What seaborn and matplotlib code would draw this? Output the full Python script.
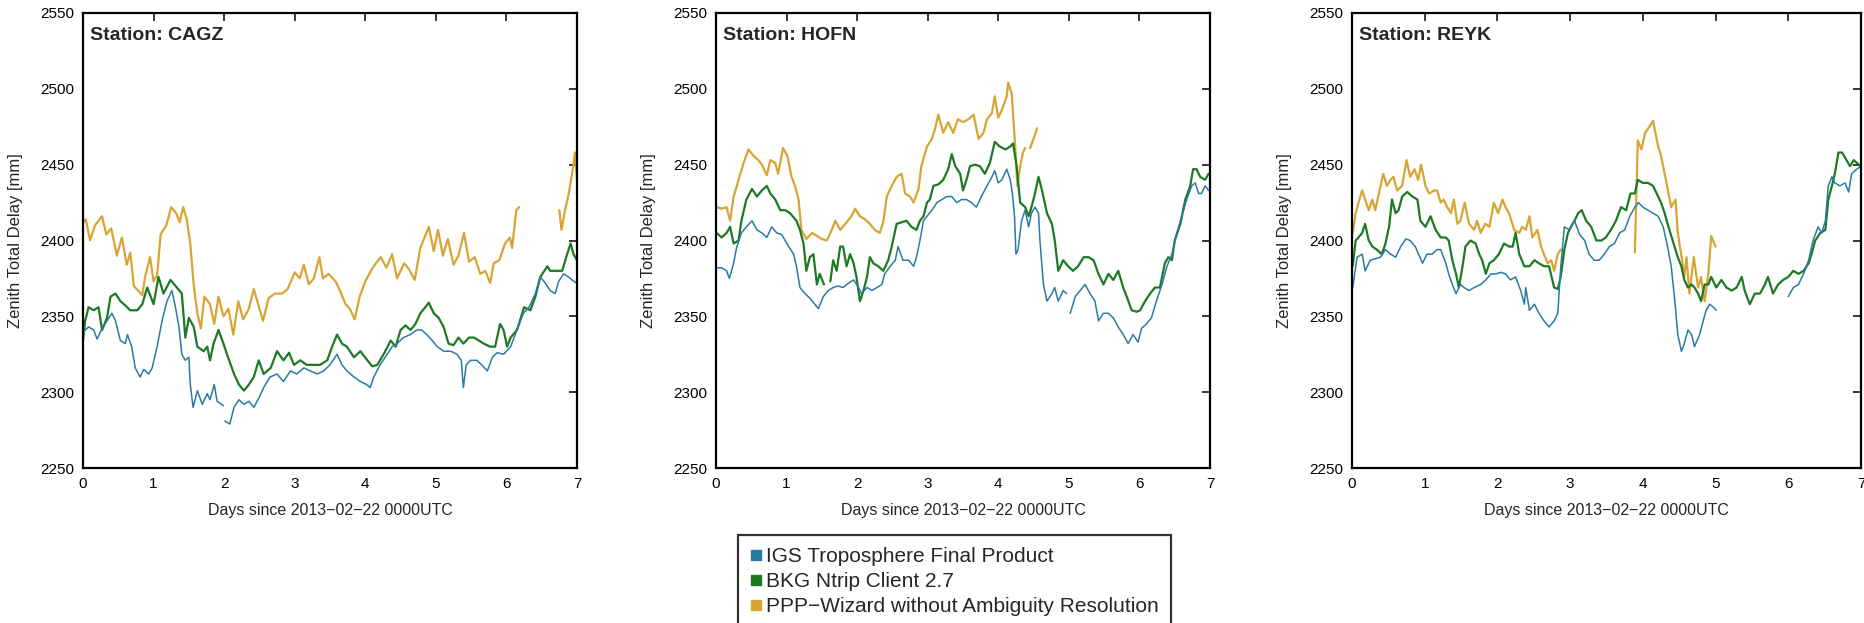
import numpy as np
import pandas as pd
import matplotlib
matplotlib.use("Agg")
import matplotlib.pyplot as plt
from matplotlib.lines import Line2D
import seaborn as sns

nan = np.nan

# ---------------------------------------------------------------------------
# Zenith total delay [mm] per station and solution, days since 2013-02-22 00 UTC
# (NaN marks a data gap)
# ---------------------------------------------------------------------------
STATIONS = ["CAGZ", "HOFN", "REYK"]
SOURCES = ["IGS Troposphere Final Product",
           "BKG Ntrip Client 2.7",
           "PPP\u2212Wizard without Ambiguity Resolution"]
COLORS = ["#2a7ba3", "#1d7a22", "#d8a534"]
X_TICKS = [0, 1, 2, 3, 4, 5, 6, 7]
Y_TICKS = [2250, 2300, 2350, 2400, 2450, 2500, 2550]

# --- CAGZ ------------------------------------------------------------------
CAGZ_IGS_DAY = [0.00, 0.03, 0.08, 0.15, 0.20, 0.27, 0.34, 0.41, 0.46, 0.53,
                0.60, 0.63, 0.69, 0.74, 0.81, 0.86, 0.93, 0.98, 1.05, 1.12,
                1.19, 1.26, 1.31, 1.36, 1.40, 1.45, 1.50, 1.52, 1.56, 1.62,
                1.69, 1.76, 1.80, 1.86, 1.90, 1.99, 2.00, 2.01, 2.08, 2.14,
                2.21, 2.28, 2.35, 2.42, 2.49, 2.56, 2.65, 2.75, 2.84, 2.94,
                3.03, 3.13, 3.22, 3.32, 3.41, 3.50, 3.60, 3.67, 3.74, 3.84,
                3.93, 4.02, 4.07, 4.12, 4.21, 4.31, 4.38, 4.45, 4.54, 4.64,
                4.73, 4.80, 4.87, 4.95, 5.02, 5.11, 5.21, 5.30, 5.36, 5.39,
                5.43, 5.49, 5.58, 5.65, 5.73, 5.80, 5.87, 5.96, 6.06, 6.15,
                6.24, 6.32, 6.41, 6.48, 6.55, 6.62, 6.69, 6.74, 6.81, 6.88,
                6.93, 6.99]
CAGZ_IGS_ZTD = [2338, 2341, 2343, 2341, 2335, 2342, 2347, 2352, 2347, 2334,
                2332, 2338, 2330, 2316, 2310, 2315, 2312, 2316, 2330, 2347,
                2360, 2367, 2356, 2343, 2325, 2321, 2323, 2305, 2290, 2301,
                2292, 2299, 2295, 2305, 2294, 2291, nan, 2281, 2279, 2290,
                2295, 2292, 2294, 2290, 2296, 2303, 2310, 2312, 2307, 2314,
                2312, 2316, 2314, 2312, 2314, 2318, 2325, 2318, 2314, 2310,
                2307, 2305, 2303, 2310, 2318, 2325, 2330, 2332, 2336, 2338,
                2341, 2341, 2338, 2334, 2330, 2327, 2327, 2325, 2321, 2303,
                2318, 2321, 2321, 2318, 2314, 2323, 2326, 2325, 2330, 2341,
                2352, 2356, 2365, 2376, 2372, 2367, 2365, 2373, 2378, 2376,
                2374, 2372]

CAGZ_BKG_DAY = [0.00, 0.03, 0.08, 0.15, 0.22, 0.27, 0.34, 0.39, 0.46, 0.53,
                0.58, 0.67, 0.77, 0.84, 0.91, 1.00, 1.07, 1.14, 1.24, 1.33,
                1.40, 1.45, 1.50, 1.57, 1.62, 1.71, 1.76, 1.80, 1.85, 1.92,
                1.99, 2.04, 2.14, 2.21, 2.28, 2.35, 2.42, 2.49, 2.56, 2.66,
                2.75, 2.84, 2.92, 2.99, 3.08, 3.17, 3.27, 3.36, 3.46, 3.53,
                3.60, 3.67, 3.74, 3.84, 3.93, 4.03, 4.10, 4.17, 4.26, 4.36,
                4.43, 4.50, 4.57, 4.64, 4.71, 4.78, 4.85, 4.90, 4.97, 5.04,
                5.11, 5.18, 5.25, 5.32, 5.39, 5.47, 5.54, 5.61, 5.68, 5.77,
                5.84, 5.91, 5.96, 6.01, 6.06, 6.15, 6.25, 6.34, 6.41, 6.48,
                6.58, 6.62, 6.72, 6.79, 6.86, 6.91, 6.95, 7.00]
CAGZ_BKG_ZTD = [2334, 2347, 2356, 2354, 2356, 2341, 2349, 2363, 2365, 2360,
                2358, 2354, 2354, 2358, 2369, 2358, 2376, 2365, 2374, 2369,
                2365, 2336, 2349, 2343, 2330, 2327, 2330, 2321, 2332, 2341,
                2332, 2325, 2312, 2305, 2301, 2305, 2310, 2321, 2312, 2316,
                2327, 2321, 2326, 2318, 2321, 2318, 2318, 2318, 2321, 2330,
                2338, 2332, 2330, 2323, 2327, 2321, 2317, 2318, 2325, 2334,
                2330, 2341, 2344, 2341, 2345, 2352, 2356, 2359, 2352, 2349,
                2343, 2332, 2331, 2336, 2332, 2336, 2336, 2334, 2332, 2330,
                2330, 2345, 2341, 2330, 2336, 2341, 2356, 2354, 2363, 2376,
                2383, 2380, 2380, 2380, 2391, 2398, 2391, 2387]

CAGZ_PPP_DAY = [0.00, 0.04, 0.10, 0.17, 0.27, 0.33, 0.40, 0.48, 0.55, 0.62,
                0.67, 0.72, 0.78, 0.84, 0.88, 0.95, 1.00, 1.05, 1.10, 1.18,
                1.25, 1.32, 1.37, 1.42, 1.47, 1.52, 1.57, 1.62, 1.67, 1.72,
                1.80, 1.86, 1.92, 1.99, 2.06, 2.13, 2.20, 2.27, 2.35, 2.42,
                2.47, 2.55, 2.63, 2.72, 2.82, 2.90, 3.00, 3.07, 3.13, 3.20,
                3.27, 3.35, 3.40, 3.48, 3.58, 3.65, 3.72, 3.78, 3.85, 3.92,
                4.00, 4.08, 4.15, 4.22, 4.30, 4.38, 4.45, 4.55, 4.62, 4.70,
                4.78, 4.84, 4.90, 4.97, 5.03, 5.10, 5.17, 5.25, 5.32, 5.40,
                5.47, 5.55, 5.63, 5.70, 5.77, 5.82, 5.90, 5.98, 6.05, 6.08,
                6.14, 6.18, 6.45, 6.75, 6.78, 6.83, 6.88, 6.93, 6.97, 7.00]
CAGZ_PPP_ZTD = [2412, 2414, 2400, 2410, 2416, 2404, 2408, 2390, 2402, 2384,
                2392, 2370, 2367, 2364, 2376, 2389, 2373, 2377, 2404, 2410,
                2422, 2418, 2412, 2422, 2414, 2398, 2370, 2352, 2342, 2363,
                2358, 2345, 2363, 2350, 2355, 2338, 2360, 2348, 2355, 2368,
                2360, 2347, 2362, 2365, 2365, 2368, 2379, 2375, 2384, 2371,
                2375, 2389, 2375, 2378, 2373, 2366, 2358, 2355, 2348, 2363,
                2373, 2380, 2385, 2389, 2382, 2391, 2375, 2385, 2381, 2374,
                2395, 2402, 2409, 2393, 2407, 2390, 2401, 2384, 2390, 2405,
                2386, 2389, 2378, 2380, 2372, 2385, 2387, 2398, 2402, 2395,
                2420, 2422, nan, 2420, 2407, 2420, 2430, 2444, 2458, 2440]

# --- HOFN ------------------------------------------------------------------
HOFN_IGS_DAY = [0.01, 0.08, 0.15, 0.19, 0.25, 0.29, 0.36, 0.43, 0.51, 0.58,
                0.65, 0.72, 0.79, 0.86, 0.93, 0.98, 1.03, 1.10, 1.14, 1.19,
                1.26, 1.33, 1.40, 1.45, 1.52, 1.59, 1.66, 1.73, 1.80, 1.88,
                1.95, 2.02, 2.06, 2.14, 2.21, 2.28, 2.35, 2.39, 2.47, 2.54,
                2.58, 2.65, 2.73, 2.80, 2.84, 2.89, 2.94, 2.99, 3.06, 3.13,
                3.20, 3.27, 3.34, 3.41, 3.48, 3.55, 3.62, 3.69, 3.76, 3.84,
                3.91, 3.95, 4.00, 4.05, 4.12, 4.17, 4.20, 4.23, 4.25, 4.28,
                4.33, 4.38, 4.43, 4.47, 4.52, 4.57, 4.59, 4.64, 4.69, 4.76,
                4.80, 4.85, 4.92, 4.97, 5.00, 5.02, 5.09, 5.16, 5.23, 5.30,
                5.37, 5.42, 5.49, 5.56, 5.63, 5.70, 5.77, 5.84, 5.91, 5.98,
                6.03, 6.10, 6.17, 6.24, 6.32, 6.39, 6.46, 6.53, 6.60, 6.67,
                6.74, 6.79, 6.84, 6.88, 6.93, 6.98]
HOFN_IGS_ZTD = [2382, 2382, 2380, 2375, 2385, 2395, 2405, 2409, 2413, 2407,
                2405, 2402, 2409, 2405, 2404, 2400, 2396, 2391, 2383, 2369,
                2365, 2362, 2358, 2355, 2363, 2367, 2369, 2370, 2369, 2372,
                2374, 2369, 2365, 2369, 2367, 2369, 2371, 2378, 2383, 2387,
                2396, 2387, 2387, 2383, 2389, 2400, 2413, 2416, 2420, 2425,
                2427, 2429, 2429, 2425, 2427, 2427, 2425, 2422, 2429, 2436,
                2442, 2446, 2438, 2440, 2447, 2440, 2431, 2416, 2391, 2394,
                2413, 2420, 2409, 2418, 2422, 2418, 2400, 2371, 2360, 2365,
                2369, 2360, 2367, 2365, nan, 2352, 2363, 2367, 2371, 2365,
                2360, 2347, 2352, 2352, 2349, 2343, 2338, 2332, 2338, 2333,
                2342, 2345, 2349, 2360, 2371, 2383, 2391, 2405, 2416, 2427,
                2436, 2438, 2431, 2431, 2436, 2433]

HOFN_BKG_DAY = [0.01, 0.08, 0.15, 0.20, 0.25, 0.32, 0.36, 0.43, 0.51, 0.58,
                0.65, 0.72, 0.77, 0.84, 0.91, 0.98, 1.05, 1.14, 1.19, 1.24,
                1.28, 1.33, 1.38, 1.43, 1.47, 1.53, 1.56, 1.62, 1.66, 1.71,
                1.76, 1.80, 1.85, 1.90, 1.95, 1.99, 2.04, 2.09, 2.14, 2.18,
                2.23, 2.30, 2.37, 2.44, 2.49, 2.56, 2.63, 2.70, 2.77, 2.84,
                2.89, 2.94, 2.99, 3.03, 3.08, 3.15, 3.22, 3.29, 3.34, 3.39,
                3.46, 3.50, 3.55, 3.60, 3.67, 3.74, 3.81, 3.88, 3.95, 4.02,
                4.10, 4.17, 4.21, 4.26, 4.31, 4.38, 4.43, 4.47, 4.52, 4.57,
                4.62, 4.69, 4.76, 4.80, 4.85, 4.92, 4.99, 5.06, 5.13, 5.21,
                5.28, 5.35, 5.42, 5.49, 5.56, 5.63, 5.70, 5.77, 5.82, 5.89,
                5.96, 6.01, 6.08, 6.15, 6.22, 6.29, 6.36, 6.41, 6.46, 6.50,
                6.58, 6.65, 6.72, 6.76, 6.81, 6.86, 6.93, 6.98]
HOFN_BKG_ZTD = [2405, 2402, 2405, 2409, 2398, 2400, 2413, 2427, 2434, 2429,
                2433, 2436, 2431, 2427, 2420, 2420, 2418, 2413, 2407, 2398,
                2380, 2389, 2391, 2371, 2378, 2371, nan, 2373, 2387, 2380,
                2396, 2396, 2383, 2391, 2385, 2376, 2360, 2367, 2376, 2389,
                2385, 2383, 2380, 2387, 2396, 2411, 2412, 2413, 2409, 2407,
                2413, 2416, 2425, 2427, 2436, 2437, 2440, 2447, 2457, 2449,
                2444, 2433, 2440, 2449, 2450, 2449, 2444, 2451, 2465, 2462,
                2460, 2462, 2464, 2449, 2425, 2422, 2416, 2422, 2431, 2442,
                2433, 2418, 2411, 2400, 2380, 2387, 2383, 2380, 2383, 2389,
                2389, 2387, 2378, 2371, 2378, 2374, 2380, 2369, 2363, 2354,
                2353, 2354, 2360, 2365, 2369, 2369, 2385, 2389, 2387, 2400,
                2411, 2427, 2436, 2447, 2447, 2442, 2440, 2444]

HOFN_PPP_DAY = [0.01, 0.08, 0.15, 0.20, 0.25, 0.32, 0.39, 0.46, 0.53, 0.60,
                0.65, 0.72, 0.77, 0.84, 0.88, 0.95, 1.01, 1.07, 1.12, 1.17,
                1.21, 1.28, 1.36, 1.43, 1.50, 1.57, 1.64, 1.69, 1.76, 1.85,
                1.92, 1.97, 2.04, 2.11, 2.18, 2.25, 2.32, 2.37, 2.42, 2.49,
                2.56, 2.63, 2.68, 2.75, 2.80, 2.87, 2.91, 2.99, 3.06, 3.10,
                3.15, 3.22, 3.29, 3.36, 3.43, 3.50, 3.58, 3.65, 3.72, 3.79,
                3.84, 3.91, 3.95, 4.00, 4.05, 4.12, 4.14, 4.19, 4.24, 4.27,
                4.31, 4.35, 4.38, 4.40, 4.45, 4.50, 4.55]
HOFN_PPP_ZTD = [2422, 2421, 2422, 2413, 2429, 2440, 2451, 2460, 2456, 2453,
                2450, 2443, 2453, 2451, 2444, 2461, 2456, 2442, 2436, 2427,
                2407, 2401, 2405, 2403, 2401, 2400, 2407, 2413, 2407, 2412,
                2416, 2421, 2416, 2414, 2411, 2407, 2405, 2412, 2429, 2436,
                2442, 2444, 2431, 2429, 2425, 2434, 2449, 2462, 2467, 2473,
                2483, 2471, 2478, 2471, 2480, 2478, 2480, 2483, 2467, 2471,
                2480, 2484, 2495, 2481, 2486, 2495, 2504, 2497, 2462, 2436,
                2449, 2458, 2461, nan, 2461, 2467, 2474]

# --- REYK ------------------------------------------------------------------
REYK_IGS_DAY = [0.01, 0.07, 0.14, 0.18, 0.25, 0.32, 0.39, 0.46, 0.53, 0.60,
                0.67, 0.74, 0.80, 0.87, 0.97, 1.03, 1.10, 1.17, 1.22, 1.29,
                1.33, 1.38, 1.43, 1.49, 1.54, 1.61, 1.68, 1.77, 1.84, 1.91,
                1.98, 2.05, 2.11, 2.18, 2.25, 2.32, 2.37, 2.39, 2.44, 2.51,
                2.57, 2.64, 2.71, 2.78, 2.83, 2.87, 2.92, 2.99, 3.06, 3.13,
                3.20, 3.26, 3.33, 3.40, 3.47, 3.54, 3.61, 3.68, 3.75, 3.82,
                3.89, 3.94, 4.00, 4.07, 4.14, 4.21, 4.28, 4.34, 4.39, 4.44,
                4.48, 4.53, 4.57, 4.62, 4.67, 4.71, 4.78, 4.83, 4.87, 4.92,
                4.97, 5.01, 5.50, 6.00, 6.07, 6.14, 6.21, 6.28, 6.34, 6.41,
                6.46, 6.51, 6.55, 6.60, 6.64, 6.71, 6.78, 6.83, 6.87, 6.94,
                7.00]
REYK_IGS_ZTD = [2369, 2389, 2391, 2380, 2387, 2388, 2389, 2394, 2391, 2389,
                2396, 2401, 2400, 2396, 2385, 2391, 2391, 2394, 2394, 2385,
                2378, 2371, 2365, 2371, 2369, 2367, 2369, 2371, 2374, 2378,
                2378, 2379, 2378, 2374, 2376, 2367, 2358, 2369, 2354, 2358,
                2352, 2347, 2343, 2347, 2352, 2382, 2409, 2407, 2413, 2404,
                2400, 2391, 2387, 2387, 2391, 2396, 2398, 2405, 2407, 2416,
                2422, 2425, 2422, 2420, 2418, 2416, 2409, 2396, 2383, 2360,
                2338, 2327, 2332, 2341, 2338, 2330, 2338, 2347, 2354, 2358,
                2356, 2354, nan, 2363, 2369, 2371, 2378, 2387, 2400, 2409,
                2405, 2413, 2436, 2442, 2438, 2436, 2438, 2432, 2444, 2447,
                2449]

REYK_BKG_DAY = [0.01, 0.05, 0.09, 0.14, 0.18, 0.23, 0.28, 0.34, 0.41, 0.46,
                0.51, 0.55, 0.60, 0.64, 0.69, 0.76, 0.83, 0.90, 0.94, 1.01,
                1.08, 1.15, 1.22, 1.29, 1.33, 1.38, 1.43, 1.47, 1.52, 1.56,
                1.63, 1.70, 1.75, 1.79, 1.84, 1.89, 1.95, 2.02, 2.09, 2.16,
                2.21, 2.25, 2.30, 2.37, 2.44, 2.51, 2.57, 2.64, 2.71, 2.78,
                2.83, 2.87, 2.92, 2.97, 3.01, 3.06, 3.11, 3.16, 3.22, 3.29,
                3.36, 3.43, 3.49, 3.56, 3.63, 3.70, 3.77, 3.83, 3.89, 3.93,
                4.00, 4.07, 4.14, 4.21, 4.25, 4.30, 4.34, 4.41, 4.48, 4.53,
                4.57, 4.62, 4.67, 4.71, 4.76, 4.80, 4.85, 4.90, 4.94, 5.01,
                5.08, 5.15, 5.22, 5.29, 5.36, 5.40, 5.47, 5.54, 5.61, 5.68,
                5.72, 5.79, 5.86, 5.93, 6.00, 6.07, 6.14, 6.21, 6.28, 6.32,
                6.37, 6.44, 6.51, 6.55, 6.60, 6.64, 6.69, 6.74, 6.80, 6.85,
                6.90, 6.97, 7.00]
REYK_BKG_ZTD = [2383, 2400, 2402, 2405, 2411, 2400, 2396, 2394, 2391, 2398,
                2409, 2427, 2418, 2420, 2429, 2432, 2429, 2427, 2413, 2409,
                2416, 2407, 2402, 2402, 2400, 2387, 2378, 2369, 2383, 2396,
                2400, 2398, 2391, 2387, 2378, 2385, 2387, 2391, 2398, 2396,
                2396, 2405, 2391, 2383, 2383, 2387, 2385, 2383, 2383, 2369,
                2368, 2376, 2394, 2405, 2409, 2413, 2418, 2420, 2413, 2409,
                2400, 2400, 2402, 2407, 2413, 2422, 2420, 2431, 2431, 2440,
                2438, 2438, 2436, 2429, 2425, 2418, 2411, 2400, 2389, 2383,
                2374, 2369, 2371, 2369, 2365, 2360, 2371, 2371, 2376, 2369,
                2374, 2369, 2367, 2369, 2376, 2367, 2358, 2365, 2365, 2371,
                2376, 2365, 2371, 2374, 2376, 2380, 2378, 2380, 2385, 2391,
                2400, 2405, 2407, 2427, 2436, 2444, 2458, 2458, 2453, 2449,
                2453, 2450, 2449]

REYK_PPP_DAY = [0.01, 0.05, 0.09, 0.14, 0.18, 0.23, 0.28, 0.32, 0.37, 0.43,
                0.48, 0.53, 0.57, 0.62, 0.69, 0.75, 0.80, 0.86, 0.91, 0.95,
                1.01, 1.06, 1.13, 1.17, 1.22, 1.26, 1.31, 1.36, 1.40, 1.45,
                1.49, 1.55, 1.61, 1.68, 1.72, 1.77, 1.83, 1.89, 1.95, 2.01,
                2.07, 2.11, 2.16, 2.23, 2.30, 2.34, 2.39, 2.44, 2.48, 2.55,
                2.60, 2.64, 2.69, 2.74, 2.78, 2.83, 2.87, 3.40, 3.89, 3.93,
                3.98, 4.03, 4.09, 4.14, 4.21, 4.24, 4.30, 4.37, 4.39, 4.45,
                4.48, 4.54, 4.57, 4.60, 4.64, 4.70, 4.76, 4.80, 4.85, 4.90,
                4.94, 5.00]
REYK_PPP_ZTD = [2405, 2418, 2425, 2433, 2427, 2420, 2427, 2420, 2431, 2444,
                2436, 2440, 2442, 2433, 2436, 2453, 2442, 2447, 2440, 2450,
                2436, 2431, 2433, 2433, 2425, 2427, 2422, 2418, 2427, 2411,
                2413, 2425, 2411, 2407, 2413, 2405, 2411, 2409, 2425, 2418,
                2427, 2422, 2418, 2407, 2405, 2409, 2407, 2416, 2402, 2407,
                2396, 2391, 2385, 2387, 2380, 2391, 2394, nan, 2392, 2466,
                2460, 2471, 2475, 2479, 2462, 2458, 2444, 2427, 2422, 2427,
                2405, 2387, 2376, 2389, 2365, 2389, 2369, 2376, 2360, 2378,
                2403, 2396]

SERIES = {
    "CAGZ": [(CAGZ_IGS_DAY, CAGZ_IGS_ZTD), (CAGZ_BKG_DAY, CAGZ_BKG_ZTD), (CAGZ_PPP_DAY, CAGZ_PPP_ZTD)],
    "HOFN": [(HOFN_IGS_DAY, HOFN_IGS_ZTD), (HOFN_BKG_DAY, HOFN_BKG_ZTD), (HOFN_PPP_DAY, HOFN_PPP_ZTD)],
    "REYK": [(REYK_IGS_DAY, REYK_IGS_ZTD), (REYK_BKG_DAY, REYK_BKG_ZTD), (REYK_PPP_DAY, REYK_PPP_ZTD)],
}


def to_frame(days, ztd):
    """Series as a long table; runs between NaN gaps get their own segment id."""
    df = pd.DataFrame({"day": days, "ztd": ztd})
    df["seg"] = df["ztd"].isna().cumsum()
    return df.dropna()


# ---------------------------------------------------------------------------
sns.set_style("white")
plt.rcParams["font.family"] = ["Liberation Sans", "DejaVu Sans"]
plt.rcParams["axes.unicode_minus"] = True

W, H = 1864, 623
fig = plt.figure(figsize=(W / 100, H / 100), dpi=100)
fig.patch.set_facecolor("white")

# panel boxes in pixels: left, right, top, bottom
BOXES = [(83, 577, 13, 468), (716, 1210, 13, 468), (1352, 1861, 13, 468)]
LINE_WIDTHS = [1.1, 1.6, 1.6]
DRAW_ORDER = [2, 1, 0]   # PPP underneath, IGS on top

for station, (l, r, t, b) in zip(STATIONS, BOXES):
    ax = fig.add_axes([l / W, 1 - b / H, (r - l) / W, (b - t) / H])
    for k in DRAW_ORDER:
        days, ztd = SERIES[station][k]
        sns.lineplot(data=to_frame(days, ztd), x="day", y="ztd", units="seg",
                     estimator=None, color=COLORS[k], lw=LINE_WIDTHS[k],
                     ax=ax, legend=False)
    ax.set_xlim(0, 7)
    ax.set_ylim(2250, 2550)
    ax.set_xticks(X_TICKS)
    ax.set_yticks(Y_TICKS)
    ax.tick_params(direction="in", length=6, width=1.1, top=True, right=True,
                   labelsize=11, pad=6.5, colors="black")
    for sp in ax.spines.values():
        sp.set_visible(True)
        sp.set_linewidth(1.6)
        sp.set_color("black")
    ax.set_xlabel("Days since 2013\u221202\u221222 0000UTC", fontsize=11.5)
    ax.set_ylabel("Zenith Total Delay [mm]", fontsize=12)
    ax.xaxis.set_label_coords(0.5, -(503 - b) / (b - t))
    ax.yaxis.set_label_coords(-60 / (r - l), 0.5)
    ax.text(7 / (r - l), 1 - 14 / (b - t), f"Station: {station}",
            transform=ax.transAxes, fontsize=14, fontweight="bold",
            ha="left", va="top")
    ax.grid(False)

handles = [Line2D([], [], marker="s", linestyle="none", markersize=7.5,
                  markerfacecolor=c, markeredgecolor=c) for c in COLORS]
leg = fig.legend(handles, SOURCES, loc="upper left",
                 bbox_to_anchor=(738 / W, 1 - 535 / H), fontsize=15,
                 frameon=True, fancybox=False, edgecolor="black",
                 handlelength=0.5, handletextpad=0.25, borderpad=0.6,
                 labelspacing=0.28, borderaxespad=0.0)
leg.get_frame().set_linewidth(1.6)

fig.savefig("out.png", dpi=100, facecolor="white")
